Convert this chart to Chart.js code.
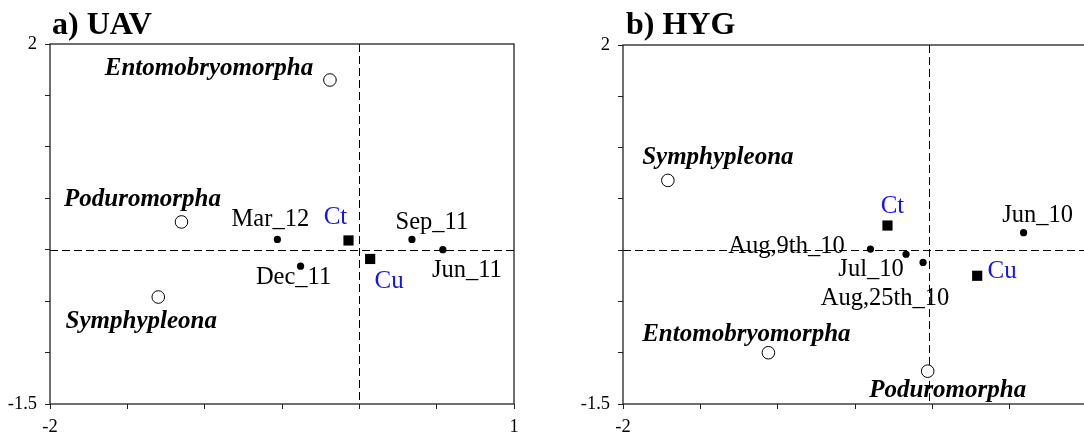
<!DOCTYPE html>
<html>
<head>
<meta charset="utf-8">
<script src="https://cdn.jsdelivr.net/npm/chart.js@4.4.1/dist/chart.umd.min.js"></script>
<style>
  html, body { margin: 0; padding: 0; background: #fff; overflow: hidden; }
  #wrap { position: relative; width: 1084px; height: 436px; overflow: hidden; }
  canvas { position: absolute; top: 0; }
  #cA { left: 0; }
  #cB { left: 573px; }
</style>
</head>
<body>
<div id="wrap">
  <canvas id="cA" width="540" height="436"></canvas>
  <canvas id="cB" width="540" height="436"></canvas>
</div>
<script>
// ---- a) UAV ----
const uavTaxa  = ['Entomobryomorpha', 'Poduromorpha', 'Symphypleona'];
const uavTaxaX = [-0.19, -1.15, -1.30];
const uavTaxaY = [1.65, 0.27, -0.46];

const uavDates  = ['Mar_12', 'Dec_11', 'Sep_11', 'Jun_11'];
const uavDatesX = [-0.53, -0.38, 0.34, 0.54];
const uavDatesY = [0.10, -0.16, 0.10, 0.00];

const uavTreat  = ['Ct', 'Cu'];
const uavTreatX = [-0.07, 0.07];
const uavTreatY = [0.09, -0.09];

// ---- b) HYG ----
const hygTaxa  = ['Symphypleona', 'Entomobryomorpha', 'Poduromorpha'];
const hygTaxaX = [-1.71, -1.06, -0.03];
const hygTaxaY = [0.68, -1.00, -1.18];

const hygDates  = ['Aug,9th_10', 'Jul_10', 'Aug,25th_10', 'Jun_10'];
const hygDatesX = [-0.40, -0.17, -0.06, 0.59];
const hygDatesY = [0.01, -0.04, -0.12, 0.17];

const hygTreat  = ['Ct', 'Cu'];
const hygTreatX = [-0.29, 0.29];
const hygTreatY = [0.24, -0.25];

// axis tick labels that are printed (others keep just a tick mark)
const xTickLabels = ['-2', '1'];
const yTickLabels = ['-1.5', '2'];

const panelTitles = ['a) UAV', 'b) HYG'];

// label placement relative to each marker, in pixels [dx, dy]
const uavTaxaOffsets  = [[-121, -11], [-39, -22], [-17, 25]];
const uavDatesOffsets = [[-7, -20], [-7, 11], [20, -17], [24, 21]];
const uavTreatOffsets = [[-13, -23], [19, 22]];
const hygTaxaOffsets  = [[50, -23], [-22, -18], [20, 19]];
const hygDatesOffsets = [[-84, -3], [-35, 15], [-38, 36], [14, -17]];
const hygTreatOffsets = [[5, -19], [25, -4]];

const SERIF = '"Liberation Serif", "Times New Roman", serif';

function pts(xs, ys) { return xs.map((x, i) => ({ x: x, y: ys[i] })); }

// draws frame, dashed origin lines, point labels and the panel title
const ordination = {
  id: 'ordination',
  beforeDatasetsDraw(chart, args, opts) {
    const { ctx, chartArea: a, scales: { x, y } } = chart;
    ctx.save();
    ctx.strokeStyle = '#000';
    ctx.lineWidth = 1;
    ctx.setLineDash([8, 4]);
    const px = Math.round(x.getPixelForValue(opts.originX)) + 0.5;
    const py = Math.round(y.getPixelForValue(opts.originY)) + 0.5;
    ctx.beginPath();
    ctx.moveTo(px, a.top); ctx.lineTo(px, a.bottom);
    ctx.moveTo(a.left, py); ctx.lineTo(a.right, py);
    ctx.stroke();
    ctx.restore();
  },
  afterDatasetsDraw(chart, args, opts) {
    const { ctx, chartArea: a } = chart;
    ctx.save();
    // plot frame
    ctx.strokeStyle = '#222';
    ctx.lineWidth = 1.3;
    ctx.strokeRect(a.left, a.top, a.right - a.left, a.bottom - a.top);
    // point labels
    ctx.textAlign = 'center';
    ctx.textBaseline = 'middle';
    chart.data.datasets.forEach((ds, i) => {
      const meta = chart.getDatasetMeta(i);
      ctx.font = ds.labelFont;
      ctx.fillStyle = ds.labelColor;
      meta.data.forEach((el, j) => {
        const off = ds.labelOffsets[j];
        ctx.fillText(ds.pointNames[j], el.x + off[0], el.y + off[1]);
      });
    });
    // panel title
    ctx.textAlign = 'left';
    ctx.textBaseline = 'alphabetic';
    ctx.fillStyle = '#000';
    ctx.font = 'bold 32px ' + SERIF;
    ctx.fillText(opts.title, opts.titleX, 34);
    ctx.restore();
  }
};

function makeDatasets(taxa, tx, ty, tOff, dates, dx, dy, dOff, treat, rx, ry, rOff) {
  return [
    {
      data: pts(tx, ty), pointNames: taxa, labelOffsets: tOff,
      labelFont: 'italic bold 25px ' + SERIF, labelColor: '#000',
      pointStyle: 'circle', pointRadius: 6.3,
      backgroundColor: '#fff', borderColor: '#000', borderWidth: 1
    },
    {
      data: pts(dx, dy), pointNames: dates, labelOffsets: dOff,
      labelFont: '24.5px ' + SERIF, labelColor: '#000',
      pointStyle: 'circle', pointRadius: 3.6,
      backgroundColor: '#000', borderColor: '#000', borderWidth: 0
    },
    {
      data: pts(rx, ry), pointNames: treat, labelOffsets: rOff,
      labelFont: '25px ' + SERIF, labelColor: '#1515e6',
      pointStyle: 'rect', pointRadius: 7.2,
      backgroundColor: '#000', borderColor: '#000', borderWidth: 0
    }
  ];
}

function axis(min, max, shown, isX) {
  const s = {
    type: 'linear', min: min, max: max,
    ticks: {
      stepSize: 0.5, autoSkip: false, maxRotation: 0, minRotation: 0,
      color: '#000', font: { family: SERIF, size: 18.5 },
      padding: isX ? 7 : 8,
      callback: v => (shown.includes(String(v)) ? String(v) : '')
    },
    grid: { display: true, drawOnChartArea: false, drawTicks: true, tickLength: 5, color: '#222', lineWidth: 1 },
    border: { display: false }
  };
  if (isX) s.afterFit = sc => { sc.height = 32; };
  else s.afterFit = sc => { sc.width = 50; };
  return s;
}

function makeChart(id, datasets, title, titleX, originX, padTop) {
  return new Chart(document.getElementById(id), {
    type: 'scatter',
    data: { datasets: datasets },
    options: {
      responsive: false, animation: false, devicePixelRatio: 1,
      layout: { padding: { top: padTop, right: 26, bottom: 0, left: 0 } },
      plugins: {
        legend: { display: false }, tooltip: { enabled: false },
        ordination: { title: title, titleX: titleX, originX: originX, originY: 0 }
      },
      scales: {
        x: axis(-2, 1, xTickLabels, true),
        y: axis(-1.5, 2, yTickLabels, false)
      }
    },
    plugins: [ordination]
  });
}

makeChart('cA',
  makeDatasets(uavTaxa, uavTaxaX, uavTaxaY, uavTaxaOffsets,
               uavDates, uavDatesX, uavDatesY, uavDatesOffsets,
               uavTreat, uavTreatX, uavTreatY, uavTreatOffsets),
  panelTitles[0], 52, 0, 44);

makeChart('cB',
  makeDatasets(hygTaxa, hygTaxaX, hygTaxaY, hygTaxaOffsets,
               hygDates, hygDatesX, hygDatesY, hygDatesOffsets,
               hygTreat, hygTreatX, hygTreatY, hygTreatOffsets),
  panelTitles[1], 53, -0.02, 45);
</script>
</body>
</html>
